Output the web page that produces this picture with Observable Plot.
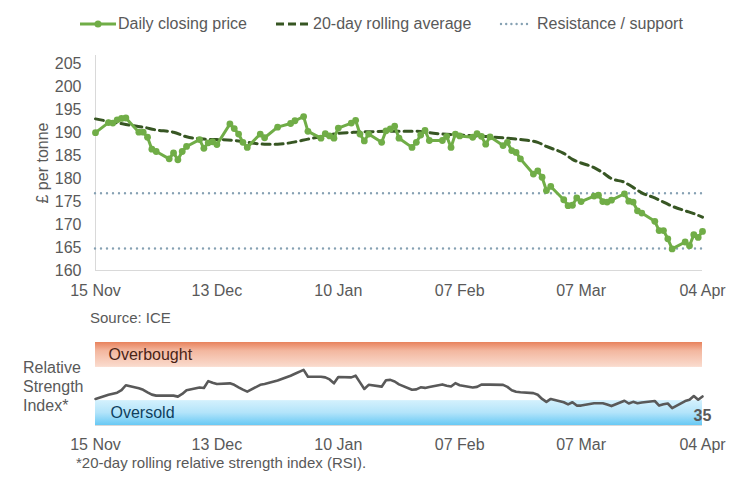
<!DOCTYPE html>
<html><head><meta charset="utf-8">
<script src="https://cdn.jsdelivr.net/npm/d3@7"></script>
<script src="https://cdn.jsdelivr.net/npm/@observablehq/plot@0.6"></script>
<style>
body{margin:0;background:#fff;font-family:"Liberation Sans",Arial,sans-serif;color:#595959;}
#wrap{position:relative;width:741px;height:490px;overflow:hidden;background:#fff;}
.abs{position:absolute;white-space:nowrap;}
</style></head><body><div id="wrap"></div>
<script>
// ---------- data ----------
const tradingDays = [
"2024-11-15",
"2024-11-18","2024-11-19","2024-11-20","2024-11-21","2024-11-22",
"2024-11-25","2024-11-26","2024-11-27","2024-11-28","2024-11-29",
"2024-12-02","2024-12-03","2024-12-04","2024-12-05","2024-12-06",
"2024-12-09","2024-12-10","2024-12-11","2024-12-12","2024-12-13",
"2024-12-16","2024-12-17","2024-12-18","2024-12-19","2024-12-20",
"2024-12-23","2024-12-24","2024-12-27","2024-12-30","2024-12-31",
"2025-01-02","2025-01-03",
"2025-01-06","2025-01-07","2025-01-08","2025-01-09","2025-01-10",
"2025-01-13","2025-01-14","2025-01-15","2025-01-16","2025-01-17",
"2025-01-20","2025-01-21","2025-01-22","2025-01-23","2025-01-24",
"2025-01-27","2025-01-28","2025-01-29","2025-01-30","2025-01-31",
"2025-02-03","2025-02-04","2025-02-05","2025-02-06","2025-02-07",
"2025-02-10","2025-02-11","2025-02-12","2025-02-13","2025-02-14",
"2025-02-17","2025-02-18","2025-02-19","2025-02-20","2025-02-21",
"2025-02-24","2025-02-25","2025-02-26","2025-02-27","2025-02-28",
"2025-03-03","2025-03-04","2025-03-05","2025-03-06","2025-03-07",
"2025-03-10","2025-03-11","2025-03-12","2025-03-13","2025-03-14",
"2025-03-17","2025-03-18","2025-03-19","2025-03-20","2025-03-21",
"2025-03-24","2025-03-25","2025-03-26","2025-03-27","2025-03-28",
"2025-03-31","2025-04-01","2025-04-02","2025-04-03","2025-04-04"];

const closingPrice = [
190.0,
192.2,192.1,192.8,193.1,193.2,
190.1,190.1,189.0,186.4,185.9,
184.3,185.6,184.1,185.9,187.0,
188.5,186.6,187.8,188.0,187.4,
191.9,190.9,189.7,187.9,186.8,
189.7,188.9,191.2,192.0,192.6,
193.5,190.3,
188.8,189.8,189.3,188.8,191.0,
192.1,192.7,189.7,188.2,189.7,
187.9,190.4,190.8,191.4,188.8,
186.8,187.9,189.5,190.5,188.3,
188.3,189.2,186.8,189.7,189.3,
189.0,189.8,189.2,187.5,189.1,
187.2,187.9,186.1,185.7,184.3,
181.0,181.7,180.3,177.4,178.3,
175.4,174.1,174.2,175.8,175.0,
176.2,176.4,175.0,174.9,175.3,
176.7,175.1,174.9,173.0,172.5,
170.7,168.7,168.7,166.9,164.7,
166.2,165.4,167.8,167.2,168.5];

const rsiValues = [
32.0,
37.0,38.3,39.5,42.5,48.5,
44.8,43.0,40.0,37.2,36.0,
36.0,36.0,34.8,38.0,42.5,
45.8,45.2,53.5,51.5,50.0,
50.8,49.0,46.0,43.2,40.8,
49.0,50.0,54.2,60.0,62.3,
67.0,58.8,
58.8,58.0,55.5,50.8,58.5,
58.0,60.0,52.0,44.0,49.0,
46.8,54.5,55.0,53.0,49.5,
43.0,43.5,46.0,45.3,46.5,
49.5,48.0,47.0,51.0,48.5,
45.8,46.5,49.2,49.2,49.2,
49.0,46.5,42.5,40.6,40.0,
39.0,37.0,32.0,28.5,32.0,
28.0,25.5,28.0,24.0,24.0,
26.8,26.8,26.8,25.2,23.4,
29.8,26.5,28.5,26.8,27.8,
29.5,24.0,25.5,26.5,21.0,
29.4,31.0,35.5,31.0,35.0];

const rollingDates = [
"2024-11-15","2024-11-19","2024-11-22","2024-11-26","2024-11-29","2024-12-03","2024-12-06",
"2024-12-10","2024-12-13","2024-12-17","2024-12-20","2024-12-24","2024-12-27","2024-12-31",
"2025-01-03","2025-01-07","2025-01-09","2025-01-14","2025-01-17","2025-01-23","2025-01-28",
"2025-01-31","2025-02-03","2025-02-07","2025-02-11","2025-02-14","2025-02-18","2025-02-21",
"2025-02-25","2025-02-27","2025-03-03","2025-03-05","2025-03-07","2025-03-10","2025-03-12",
"2025-03-14","2025-03-17","2025-03-19","2025-03-21","2025-03-24","2025-03-26","2025-03-28",
"2025-03-31","2025-04-02","2025-04-04"];
const rollingAverage = [
193.0,192.3,191.8,191.2,190.6,190.1,189.1,
188.6,188.5,188.3,187.9,187.5,187.5,188.0,
188.6,189.3,189.7,190.1,190.2,190.3,190.3,
190.0,189.7,189.5,189.3,189.1,188.8,188.5,
187.9,187.0,185.5,184.2,183.4,182.4,181.3,
180.0,179.2,178.1,176.9,175.8,174.9,174.0,
173.0,172.4,171.6];

const supportLevels = [176.8, 164.8];
const tickDates = ["2024-11-15","2024-12-13","2025-01-10","2025-02-07","2025-03-07","2025-04-04"];
const yTicks = [160,165,170,175,180,185,190,195,200,205];
const rsiOverbought = [70, 100];
const rsiOversold = [0, 30];
const legendLabels = ["Daily closing price","20-day rolling average","Resistance / support"];
const zoneLabels = ["Overbought","Oversold"];

// ---------- build ----------
const parse = s => new Date(s + "T00:00:00Z");
const price = tradingDays.map((d,i) => ({date: parse(d), v: closingPrice[i]}));
const rsi = tradingDays.map((d,i) => ({date: parse(d), v: rsiValues[i]}));
const rolling = rollingDates.map((d,i) => ({date: parse(d), v: rollingAverage[i]}));
const xStart = parse(tickDates[0]), xEnd = parse(tickDates[tickDates.length-1]);
const ticks = tickDates.map(parse);
const fmt = d3.utcFormat("%d %b");

const GREEN = "#70AD47", DARK = "#375623", DOT = "#86A1B3", GREY = "#595959", AXIS = "#D9D9D9";
const FONT = "'Liberation Sans', Arial, sans-serif";
const wrap = document.getElementById("wrap");

function place(el, left, top) {
  el.style.position = "absolute"; el.style.left = left + "px"; el.style.top = top + "px";
  wrap.appendChild(el); return el;
}
function textDiv(txt, left, top, css) {
  const d = document.createElement("div");
  d.className = "abs"; d.textContent = txt;
  Object.assign(d.style, {left: left+"px", top: top+"px", fontSize:"16px", lineHeight:"20px", color: GREY}, css || {});
  wrap.appendChild(d); return d;
}

// legend
const sw = [
  `<svg width="40" height="12"><line x1="1" y1="6" x2="37" y2="6" stroke="${GREEN}" stroke-width="3"/><circle cx="19" cy="6" r="3.5" fill="${GREEN}"/></svg>`,
  `<svg width="34" height="12"><line x1="0" y1="6" x2="32" y2="6" stroke="${DARK}" stroke-width="3" stroke-dasharray="8,4"/></svg>`,
  `<svg width="36" height="12"><line x1="2" y1="6" x2="33" y2="6" stroke="${DOT}" stroke-width="2.4" stroke-linecap="round" stroke-dasharray="0,5.2"/></svg>`
];
const swX = [79, 276, 499], txX = [118, 313, 537];
legendLabels.forEach((lab, i) => {
  const s = document.createElement("div"); s.innerHTML = sw[i];
  s.style.lineHeight = "0"; place(s, swX[i], 18);
  textDiv(lab, txX[i], 14);
});

// y axis title
textDiv("£ per tonne", 43, 163, {transform: "translate(-50%,-50%) rotate(-90deg)", lineHeight:"20px"});

// main chart
const main = Plot.plot({
  width: 741, height: 254,
  marginLeft: 95, marginRight: 39, marginTop: 7, marginBottom: 32,
  style: {fontFamily: FONT, fontSize: "16px", color: GREY, background: "transparent", overflow: "visible"},
  x: {type: "utc", domain: [xStart, xEnd], ticks: ticks, tickFormat: fmt, tickSize: 0, tickPadding: 14, label: null},
  y: {domain: [160, 206.8], ticks: yTicks, tickSize: 0, tickPadding: 14, label: null},
  marks: [
    Plot.ruleX([xStart], {stroke: AXIS, strokeWidth: 1}),
    Plot.ruleY([160], {stroke: AXIS, strokeWidth: 1}),
    Plot.ruleY(supportLevels, {stroke: DOT, strokeWidth: 2.4, strokeLinecap: "round", strokeDasharray: "0,6"}),
    Plot.line(rolling, {x: "date", y: "v", stroke: DARK, strokeWidth: 3, strokeDasharray: "8,5", curve: "monotone-x"}),
    Plot.line(price, {x: "date", y: "v", stroke: GREEN, strokeWidth: 3, strokeLinejoin: "round"}),
    Plot.dot(price, {x: "date", y: "v", r: 3.4, fill: GREEN, stroke: "none"})
  ]
});
place(main, 0, 48);

textDiv("Source: ICE", 90, 308, {fontSize: "15px"});

// RSI label
textDiv("Relative\nStrength\nIndex*", 23, 358, {whiteSpace: "pre", lineHeight: "19px"});

const defs = () => {
  const g = document.createElementNS("http://www.w3.org/2000/svg", "g");
  g.innerHTML = `<defs>
    <linearGradient id="gOver" x1="0" y1="0" x2="0" y2="1">
      <stop offset="0" stop-color="#E8825C"/><stop offset="0.35" stop-color="#F3B79F"/><stop offset="1" stop-color="#FADCCF"/>
    </linearGradient>
    <linearGradient id="gUnder" x1="0" y1="0" x2="0" y2="1">
      <stop offset="0" stop-color="#D4F1FD"/><stop offset="0.5" stop-color="#B3E4FA"/><stop offset="1" stop-color="#68C9F4"/>
    </linearGradient></defs>`;
  return g;
};
const last = rsi[rsi.length - 1];
const rsiPlot = Plot.plot({
  width: 741, height: 121,
  marginLeft: 95, marginRight: 39, marginTop: 10, marginBottom: 28,
  style: {fontFamily: FONT, fontSize: "16px", color: GREY, background: "transparent", overflow: "visible"},
  x: {type: "utc", domain: [xStart, xEnd], ticks: ticks, tickFormat: fmt, tickSize: 0, tickPadding: 13, label: null},
  y: {domain: [0, 100], axis: null},
  marks: [
    defs,
    Plot.rect([rsiOverbought], {x1: () => xStart, x2: () => xEnd, y1: d => d[0], y2: d => d[1], fill: "url(#gOver)"}),
    Plot.rect([rsiOversold], {x1: () => xStart, x2: () => xEnd, y1: d => d[0], y2: d => d[1], fill: "url(#gUnder)"}),
    Plot.ruleY([0], {stroke: AXIS}),
    Plot.text([zoneLabels[0]], {x: () => xStart, y: () => (rsiOverbought[0] + rsiOverbought[1]) / 2, text: d => d, dx: 13, textAnchor: "start", fill: "#4A2417", fontSize: 16}),
    Plot.text([zoneLabels[1]], {x: () => xStart, y: () => (rsiOversold[0] + rsiOversold[1]) / 2, text: d => d, dx: 15, textAnchor: "start", fill: "#0F3F5E", fontSize: 16}),
    Plot.line(rsi, {x: "date", y: "v", stroke: GREY, strokeWidth: 2.6, strokeLinejoin: "round"}),
    Plot.text([last], {x: "date", y: "v", text: d => d3.format(".0f")(d.v), dy: 19, fontWeight: "bold", fill: GREY, fontSize: 16, textAnchor: "middle"})
  ]
});
place(rsiPlot, 0, 332);

textDiv("*20-day rolling relative strength index (RSI).", 76, 453, {fontSize: "15px"});
</script></body></html>
